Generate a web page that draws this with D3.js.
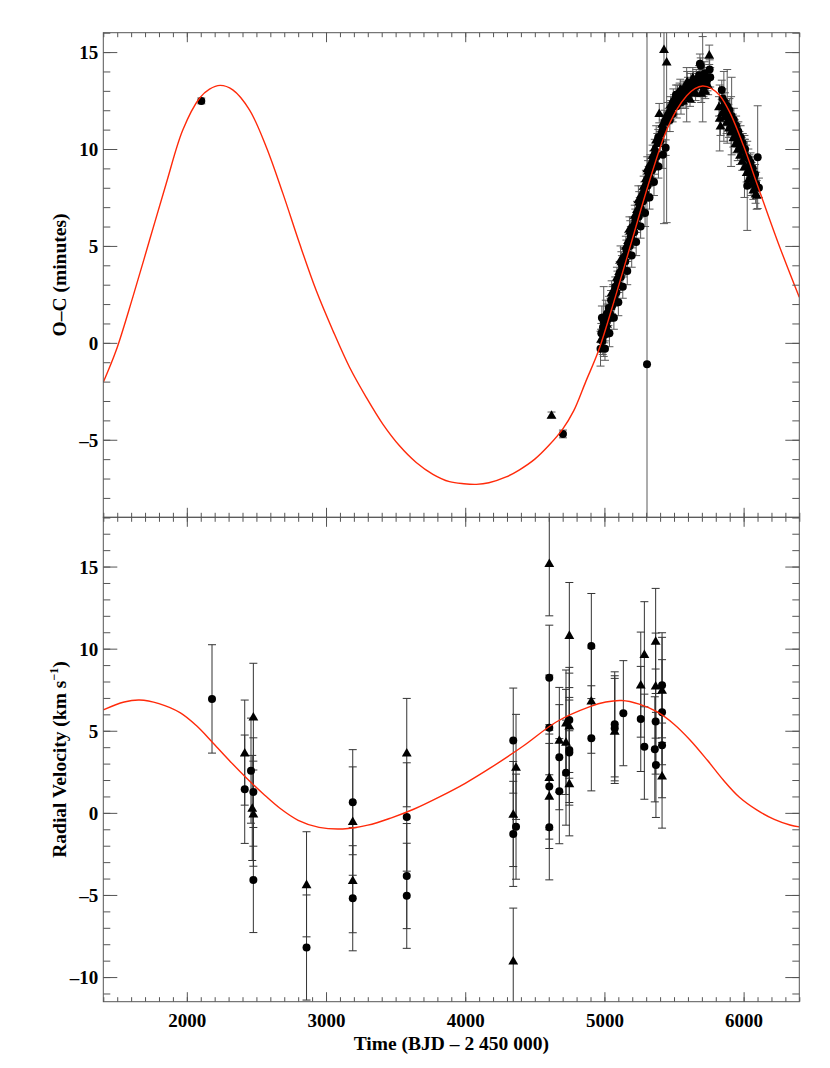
<!DOCTYPE html>
<html>
<head>
<meta charset="utf-8">
<script src="https://cdn.jsdelivr.net/npm/d3@7"></script>
<style>
  body { margin: 0; background: #fff; }
  text { font-family: "Liberation Serif", "Times New Roman", serif; font-weight: bold; fill: #000; }
</style>
</head>
<body>
<svg width="830" height="1068"></svg>
<script>
// tick labels
const xTicks = [2000, 3000, 4000, 5000, 6000];
const ocTicks = [-5, 0, 5, 10, 15];
const rvTicks = [-10, -5, 0, 5, 10, 15];

// O-C model curve [time, minutes]
const ocModel = [[1400,-2.03],[1492,-0.40],[1612,2.36],[1732,5.29],[1852,8.22],[1971,10.98],[2091,12.62],
  [2163,13.09],[2240,13.28],[2330,13.05],[2450,12.02],[2570,10.12],[2690,7.71],[2810,5.12],[2929,2.71],
  [3049,0.64],[3169,-1.26],[3289,-2.81],[3408,-4.19],[3528,-5.31],[3648,-6.17],[3768,-6.78],[3887,-7.16],
  [3990,-7.27],[4080,-7.30],[4170,-7.22],[4294,-6.92],[4390,-6.55],[4500,-6.00],[4600,-5.30],[4700,-4.45],
  [4780,-3.50],[4866,-2.00],[4958,-0.40],[5078,2.36],[5198,5.29],[5318,8.22],[5437,10.80],[5519,12.02],
  [5591,12.75],[5650,13.12],[5706,13.25],[5770,13.12],[5830,12.75],[5900,11.90],[6000,10.15],[6106,8.00],
  [6249,5.14],[6400,2.35]];

// O-C timings, circles [time, minutes, error]
const ocCircles = [[2104,12.48,0.15],[4702,-4.70,0.2],[5306,-1.10,30],
  [4972,-0.3,0.9],[4978,0.5,0.5],[4982,1.3,0.6],[4986,0.1,0.4],[4990,0.8,0.5],[4995,1.1,1.8],[5000,0.4,0.4],
  [5006,1.0,0.5],[5012,0.7,0.4],[5018,1.5,0.5],[5025,1.2,0.4],[5032,1.8,0.6],[5040,1.5,0.4],[5048,2.2,0.5],
  [5055,1.9,0.4],[5063,2.5,0.5],[5070,2.3,0.4],[5078,2.9,0.5],[5086,2.6,0.4],[5094,3.2,0.5],[5102,3.0,0.4],
  [5110,3.6,0.6],[5118,3.4,0.4],[5126,4.0,0.5],[5134,3.8,0.4],[5142,4.4,0.5],[5150,4.2,0.4],[5158,4.8,0.5],
  [5166,4.6,0.4],[5174,5.1,0.5],[5182,5.0,0.4],[5190,5.5,0.5],[5198,5.3,0.4],[5206,5.9,0.5],[5214,5.7,0.4],
  [5222,6.3,0.6],[5230,6.1,0.4],[5238,6.6,0.5],[5246,6.5,0.4],[5254,7.0,0.5],[5262,6.9,0.4],[5270,7.4,0.5],
  [5278,7.3,0.4],[5286,7.8,0.5],[5294,7.7,0.4],[5302,8.2,0.5],[5310,8.1,0.4],[5318,8.6,0.5],[5326,8.5,0.4],
  [5334,9.0,0.5],[5342,8.9,0.4],[5350,9.4,0.5],[5358,9.3,0.6],[5366,9.8,0.5],[5374,9.6,0.4],[5387,10.61,0.4],
  [5004,-0.3,0.6],[5036,0.5,0.7],[5068,1.3,0.6],[5100,2.1,0.7],[5132,2.9,0.6],[5164,3.7,0.7],[5196,4.5,0.6],
  [5228,5.2,0.7],[5260,6.0,0.6],[5292,6.7,0.7],[5324,7.5,0.6],[5356,8.3,0.7],[5388,9.1,0.6],[5420,9.7,0.7],
  [5400,10.4,0.5],[5410,10.8,0.4],[5420,11.0,0.5],[5440,10.07,0.4],[5450,11.4,0.5],[5460,11.7,0.4],
  [5470,11.5,0.6],[5480,12.0,0.5],[5490,11.8,0.4],[5500,12.3,0.5],[5514,12.8,0.5],[5520,12.2,0.6],
  [5530,12.5,0.4],[5540,12.9,0.5],[5550,12.4,0.6],[5560,12.8,0.5],[5570,13.1,0.4],[5580,12.7,0.6],
  [5591,12.8,1.4],[5600,13.2,0.5],[5610,12.9,0.4],[5620,13.4,0.5],[5630,13.0,0.6],[5640,13.5,0.5],
  [5650,13.2,0.4],[5660,13.6,0.5],[5670,13.3,0.6],[5680,13.8,0.5],[5686,14.4,0.5],[5692,14.3,0.4],
  [5700,13.5,0.6],[5706,13.6,2.2],[5712,13.2,0.5],[5720,13.9,0.6],[5730,13.4,0.5],[5740,13.6,0.6],
  [5756,14.1,0.5],[5760,13.7,0.5],
  [5843,13.05,0.5],[5850,12.6,0.5],[5858,12.2,1.8],[5866,12.4,0.5],[5874,12.0,0.5],[5882,12.2,1.9],
  [5890,11.8,0.5],[5898,12.0,0.6],[5906,11.6,0.5],[5914,11.7,2.0],[5922,11.3,0.5],[5930,11.5,0.6],
  [5938,11.0,0.5],[5946,11.2,0.5],[5954,10.7,0.6],[5962,10.9,0.5],[5970,10.4,0.5],[5978,10.6,0.6],
  [5986,10.1,0.5],[5994,10.3,0.5],[6002,9.9,0.6],[6010,10.0,0.5],[6018,9.6,0.6],[6026,8.1,2.3],
  [6034,9.5,0.5],[6042,9.1,0.6],[6050,9.3,0.5],[6058,8.8,0.5],[6066,9.0,0.6],[6074,8.5,0.5],
  [6082,8.7,0.5],[6090,8.2,0.6],[6101,9.58,2.65],[6110,8.0,0.5]];

// O-C timings, triangles [time, minutes, error]
const ocTriangles = [[4620,-3.72,0.15],
  [4976,0.2,0.5],[4988,-0.2,0.4],[5004,0.6,0.5],[5016,1.0,0.4],[5028,1.4,0.5],[5044,1.9,0.4],[5058,2.4,0.5],
  [5074,2.6,0.4],[5090,3.4,0.5],[5106,3.7,0.4],[5122,4.2,0.5],[5138,4.5,0.4],[5154,5.0,0.5],[5170,5.3,0.4],
  [5186,5.8,0.5],[5202,6.1,0.4],[5218,6.6,0.5],[5234,6.9,0.4],[5250,7.3,0.5],[5266,7.7,0.4],[5282,8.1,0.5],
  [5298,8.5,0.4],[5314,8.9,0.5],[5330,9.3,0.4],[5346,9.7,0.5],[5362,10.1,0.4],[5380,10.3,0.5],
  [5010,1.5,0.7],[5052,2.6,0.6],[5116,4.3,0.7],[5180,5.9,0.6],[5244,7.4,0.7],[5308,9.0,0.6],[5372,10.5,0.7],
  [5394,11.85,0.5],[5428,15.15,9.0],[5447,14.5,8.3],[5415,11.3,0.5],[5435,11.6,0.4],[5455,11.9,0.5],
  [5475,12.3,0.4],[5495,12.6,0.5],[5525,12.9,0.4],[5545,13.1,0.5],[5565,12.5,0.4],[5595,13.5,0.5],
  [5615,12.6,0.4],[5635,13.7,0.5],[5655,12.9,0.4],[5675,13.5,0.5],[5695,12.9,0.5],[5725,13.0,0.4],
  [5745,13.3,0.5],[5753,14.86,0.5],
  [5823,12.2,0.5],[5828,11.6,1.7],[5834,11.2,0.5],[5846,11.9,0.5],[5862,11.7,0.5],[5878,11.4,0.6],
  [5894,11.1,0.5],[5910,10.9,1.8],[5926,10.6,0.5],[5942,10.3,0.5],[5958,10.0,0.6],[5974,9.7,0.5],
  [5990,9.4,0.5],[6006,9.1,1.6],[6022,8.8,0.5],[6038,8.5,0.5],[6054,8.2,0.6],[6070,7.9,0.5],
  [6086,7.7,0.5],[6094,7.63,0.74]];

// radial velocity model curve [time, km/s]
const rvModel = [[1400,6.27],[1550,6.75],[1660,6.87],[1800,6.65],[1951,6.10],[2070,5.30],[2190,4.24],
  [2310,3.15],[2430,2.11],[2550,1.15],[2669,0.28],[2800,-0.45],[2950,-0.88],[3120,-0.98],[3300,-0.75],
  [3470,-0.30],[3629,0.22],[3819,0.99],[4000,1.80],[4178,2.72],[4417,4.07],[4657,5.55],[4896,6.47],
  [5010,6.75],[5124,6.84],[5250,6.62],[5376,6.16],[5500,5.40],[5615,4.44],[5740,3.20],[5854,2.00],
  [5970,0.95],[6094,0.18],[6220,-0.40],[6333,-0.74],[6400,-0.85]];

// radial velocities, circles [time, km/s, error]
const rvCircles = [[2181,6.94,3.3],[2416,1.44,3.3],[2461,2.57,3.2],[2478,1.27,3.3],[2478,-4.09,3.2],
  [2860,-8.2,3.2],[3192,0.65,3.2],[3192,-5.2,3.2],[3580,-0.25,3.3],[3580,-3.85,3.2],[3580,-5.05,3.2],
  [4345,4.40,3.2],[4345,-1.28,3.2],[4365,-0.84,3.2],[4604,8.23,3.2],[4604,5.19,3.2],[4604,1.6,3.2],
  [4604,-0.88,3.2],[4676,3.39,3.2],[4676,1.32,3.2],[4724,2.45,3.2],[4748,5.66,3.2],[4748,3.83,3.2],
  [4748,3.67,3.2],[4906,10.16,3.2],[4906,4.54,3.2],[5074,5.39,3.2],[5074,5.15,3.2],[5136,6.07,3.2],
  [5261,5.72,3.2],[5287,4.03,3.2],[5368,5.56,3.2],[5362,3.87,3.2],[5370,2.92,3.2],[5414,7.77,3.2],
  [5414,6.13,3.2],[5414,4.12,3.2]];

// radial velocities, triangles [time, km/s, error]
const rvTriangles = [[2416,3.67,3.2],[2470,0.30,3.2],[2478,5.86,3.25],[2478,-0.05,3.2],[2860,-4.35,3.2],
  [3192,-0.5,3.3],[3192,-4.1,3.2],[3580,3.67,3.3],[4345,-0.07,3.2],[4345,-9.0,3.2],[4365,2.8,3.2],
  [4604,15.2,3.2],[4604,2.17,3.2],[4604,1.03,3.2],[4676,4.44,3.2],[4724,4.32,3.2],[4724,5.5,3.2],
  [4748,10.83,3.2],[4748,5.31,3.2],[4748,1.80,3.2],[4906,6.83,3.2],[5074,4.99,3.2],[5261,7.81,3.2],
  [5287,9.66,3.2],[5368,10.47,3.2],[5368,7.75,3.2],[5414,7.49,3.2],[5414,2.27,3.2]];

const left = 103.3, right = 799.3;
const svg = d3.select('svg');
const x = d3.scaleLinear().domain([1400, 6400]).range([left, right]);
const minorX = d3.range(1400, 6401, 100);
const axisColor = '#555';

function panel(id, top, bottom, yDomain, yTicks, model, circles, triangles, barColor) {
  const y = d3.scaleLinear().domain(yDomain).range([bottom, top]);
  const g = svg.append('g');

  svg.append('clipPath').attr('id', id)
    .append('rect').attr('x', left).attr('y', top).attr('width', right - left).attr('height', bottom - top);

  const plot = g.append('g').attr('clip-path', `url(#${id})`);
  const all = circles.map(d => ({d, shape: 'c'})).concat(triangles.map(d => ({d, shape: 't'})));

  // error bars
  plot.selectAll('line.bar').data(all).enter().append('line')
    .attr('x1', p => x(p.d[0])).attr('x2', p => x(p.d[0]))
    .attr('y1', p => y(p.d[1] - p.d[2])).attr('y2', p => y(p.d[1] + p.d[2]))
    .attr('stroke', barColor).attr('stroke-width', 1);
  [-1, 1].forEach(s => {
    plot.selectAll('line.cap' + s).data(all).enter().append('line')
      .attr('x1', p => x(p.d[0]) - 4).attr('x2', p => x(p.d[0]) + 4)
      .attr('y1', p => y(p.d[1] + s * p.d[2])).attr('y2', p => y(p.d[1] + s * p.d[2]))
      .attr('stroke', barColor).attr('stroke-width', 1);
  });

  plot.selectAll('circle').data(circles).enter().append('circle')
    .attr('cx', d => x(d[0])).attr('cy', d => y(d[1])).attr('r', 4).attr('fill', '#000');
  plot.selectAll('path.tri').data(triangles).enter().append('path')
    .attr('transform', d => `translate(${x(d[0])},${y(d[1]) + 1})`)
    .attr('d', d3.symbol(d3.symbolTriangle, 42)).attr('fill', '#000');

  plot.append('path').datum(model)
    .attr('d', d3.line().x(d => x(d[0])).y(d => y(d[1])).curve(d3.curveCatmullRom.alpha(0.5)))
    .attr('fill', 'none').attr('stroke', '#ff2a0a').attr('stroke-width', 1.4);

  // frame and ticks (all sides, pointing inward)
  const minorY = d3.range(Math.ceil(yDomain[0]), Math.floor(yDomain[1]) + 1);
  const axes = [
    [d3.axisBottom(x).tickValues(minorX).tickSize(-4.5), `translate(0,${bottom})`],
    [d3.axisBottom(x).tickValues(xTicks).tickSize(-9.5), `translate(0,${bottom})`],
    [d3.axisTop(x).tickValues(minorX).tickSize(-4.5), `translate(0,${top})`],
    [d3.axisTop(x).tickValues(xTicks).tickSize(-9.5), `translate(0,${top})`],
    [d3.axisLeft(y).tickValues(minorY).tickSize(-7), `translate(${left},0)`],
    [d3.axisLeft(y).tickValues(yTicks).tickSize(-14), `translate(${left},0)`],
    [d3.axisRight(y).tickValues(minorY).tickSize(-7), `translate(${right},0)`],
    [d3.axisRight(y).tickValues(yTicks).tickSize(-14), `translate(${right},0)`]
  ];
  axes.forEach(([ax, tr]) => {
    const a = g.append('g').attr('transform', tr).call(ax.tickFormat('').tickSizeOuter(0));
    a.select('.domain').remove();
    a.selectAll('line').attr('stroke', axisColor);
  });

  // y tick labels
  const yl = g.append('g').attr('transform', `translate(${left},0)`)
    .call(d3.axisLeft(y).tickValues(yTicks).tickSize(0).tickPadding(5)
      .tickFormat(d => d < 0 ? '\u2013' + Math.abs(d) : String(d)));
  yl.select('.domain').remove();
  yl.selectAll('text').attr('font-size', 19).attr('font-family', null).attr('dy', '0.34em');

  g.append('rect').attr('x', left).attr('y', top).attr('width', right - left).attr('height', bottom - top)
    .attr('fill', 'none').attr('stroke', axisColor).attr('stroke-width', 1);
  return y;
}

panel('clipTop', 32.7, 517.3, [-9, 16], ocTicks, ocModel, ocCircles, ocTriangles, '#5a5a5a');
panel('clipBot', 517.3, 1001.7, [-11.5, 18], rvTicks, rvModel, rvCircles, rvTriangles, '#333');

// x tick labels
const xl = svg.append('g').attr('transform', 'translate(0,1001.7)')
  .call(d3.axisBottom(x).tickValues(xTicks).tickSize(0).tickPadding(12).tickFormat(d3.format('d')));
xl.select('.domain').remove();
xl.selectAll('text').attr('font-size', 19).attr('font-family', null);

// axis titles
svg.append('text').attr('x', (left + right) / 2).attr('y', 1050).attr('text-anchor', 'middle')
  .attr('font-size', 19.5).text('Time (BJD \u2013 2 450 000)');

svg.append('text').attr('transform', 'translate(66,275) rotate(-90)').attr('text-anchor', 'middle')
  .attr('font-size', 19.5).text('O\u2013C (minutes)');

const rvt = svg.append('text').attr('transform', 'translate(66,759.5) rotate(-90)')
  .attr('text-anchor', 'middle').attr('font-size', 19.5);
rvt.append('tspan').text('Radial Velocity (km s');
rvt.append('tspan').attr('font-size', 12).attr('dy', -8).text('\u22121');
rvt.append('tspan').attr('dy', 8).text(')');
</script>
</body>
</html>
